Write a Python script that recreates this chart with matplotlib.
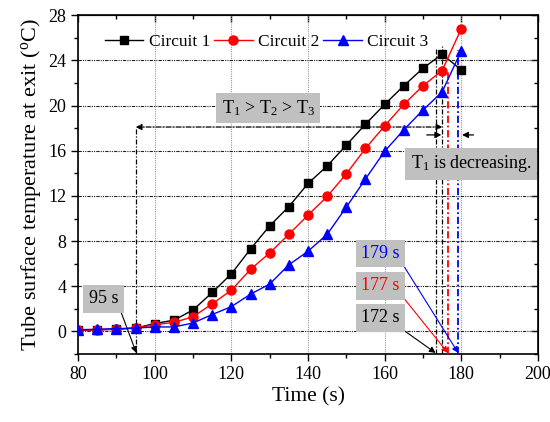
import matplotlib
matplotlib.use("Agg")
import matplotlib.pyplot as plt
from matplotlib.ticker import MultipleLocator

plt.rcParams['font.family'] = ['Liberation Serif', 'DejaVu Serif']
plt.rcParams['mathtext.fontset'] = 'custom'
plt.rcParams['mathtext.rm'] = 'Liberation Serif'
plt.rcParams['mathtext.it'] = 'Liberation Serif:italic'

# data
time = [80, 85, 90, 95, 100, 105, 110, 115, 120, 125, 130,
        135, 140, 145, 150, 155, 160, 165, 170, 175, 180]
circuit1 = [0.1, 0.15, 0.2, 0.3, 0.7, 1.0, 1.9, 3.45, 5.1, 7.3, 9.35,
            11.05, 13.1, 14.65, 16.5, 18.35, 20.1, 21.75, 23.3, 24.55, 23.15]
circuit2 = [0.1, 0.15, 0.2, 0.3, 0.6, 0.8, 1.3, 2.45, 3.65, 5.5, 6.95,
            8.6, 10.3, 11.95, 13.95, 16.2, 18.2, 20.1, 21.75, 23.1, 26.8]
circuit3 = [0.15, 0.2, 0.25, 0.3, 0.4, 0.4, 0.75, 1.5, 2.2, 3.3, 4.2,
            5.9, 7.1, 8.6, 11.0, 13.5, 15.95, 17.85, 19.6, 21.2, 24.85]

labels = ['Circuit 1', 'Circuit 2', 'Circuit 3']
colors = ['black', 'red', 'blue']
markers = ['s', 'o', '^']

# marked times (s) and the level of the vertical guide lines
mark_times = [173.3, 176.5, 179.2]
mark_text = ['172 s', '177 s', '179 s']
mark_tops = [25.0, 23.1, 24.9]

fig = plt.figure(figsize=(5.5, 4.22), dpi=100)
ax = fig.add_axes([0.142, 0.161, 0.836, 0.803])

for y, lab, c, m in zip([circuit1, circuit2, circuit3], labels, colors, markers):
    ax.plot(time, y, color=c, marker=m, markersize=6.5 if m != 's' else 6,
            lw=1, label=lab, zorder=4)

ax.set_xlim(80, 200)
ax.set_ylim(-2, 28)
ax.xaxis.set_major_locator(MultipleLocator(20))
ax.xaxis.set_minor_locator(MultipleLocator(10))
ax.yaxis.set_major_locator(MultipleLocator(4))
ax.yaxis.set_minor_locator(MultipleLocator(2))
ax.tick_params(which='both', direction='out', labelsize=13, width=1)
ax.tick_params(which='major', length=5)
ax.tick_params(which='minor', length=3)
for s in ax.spines.values():
    s.set_linewidth(1.2)

# inward ticks on the top and right, no labels
sec_x = ax.secondary_xaxis('top')
sec_x.xaxis.set_major_locator(MultipleLocator(20))
sec_x.xaxis.set_minor_locator(MultipleLocator(10))
sec_x.tick_params(which='both', direction='in', labeltop=False, width=1)
sec_x.tick_params(which='major', length=5)
sec_x.tick_params(which='minor', length=3)
sec_y = ax.secondary_yaxis('right')
sec_y.yaxis.set_major_locator(MultipleLocator(4))
sec_y.yaxis.set_minor_locator(MultipleLocator(2))
sec_y.tick_params(which='both', direction='in', labelright=False, width=1)
sec_y.tick_params(which='major', length=5)
sec_y.tick_params(which='minor', length=3)

ax.set_axisbelow(True)
ax.xaxis.grid(True, color='#999999', ls=(0, (1, 1)), lw=0.8)
ax.yaxis.grid(True, color='#222222', ls=(0, (3, 1, 1, 1, 1, 1)), lw=0.8)

ax.set_xlabel('Time (s)', fontsize=15.5, labelpad=3)
ax.set_ylabel('Tube surface temperature at exit ($^{\\rm o}$C)', fontsize=16,
              labelpad=4)

ax.legend(loc='upper left', ncol=3, frameon=False, fontsize=12.5,
          bbox_to_anchor=(0.025, 0.99), handlelength=2.2, handletextpad=0.3,
          columnspacing=0.25)

dashdot = (0, (4, 1.5, 1, 1.5))

# guide lines for the T1 > T2 > T3 range
ax.plot([95, 95], [-2, 18.1], color='k', ls=dashdot, lw=0.9, zorder=3)
ax.annotate('', xy=(95, 18.1), xytext=(175.1, 18.1),
            arrowprops=dict(arrowstyle='<|-|>', color='k', lw=0.9, ls=dashdot,
                            mutation_scale=9, shrinkA=0, shrinkB=0))
ax.plot([175.1, 175.1], [-2, 25.3], color='k', ls=dashdot, lw=0.9, zorder=3)
for x0, top, c in zip(mark_times, mark_tops, colors):
    ax.plot([x0, x0], [-2, top], color=c, ls=dashdot, lw=1.3 if c != 'black' else 0.9,
            zorder=3)

ax.annotate('', xy=(174.8, 17.4), xytext=(171.0, 17.4),
            arrowprops=dict(arrowstyle='-|>', color='k', lw=0.9,
                            mutation_scale=9, shrinkA=0, shrinkB=0))
ax.annotate('', xy=(180.2, 17.4), xytext=(183.2, 17.4),
            arrowprops=dict(arrowstyle='-|>', color='k', lw=0.9,
                            mutation_scale=9, shrinkA=0, shrinkB=0))

box = dict(boxstyle='square,pad=0.3', fc='#c0c0c0', ec='none')
ax.text(129.6, 19.8, 'T$_1$ > T$_2$ > T$_3$', fontsize=13, ha='center',
        va='center', bbox=box, zorder=5)
ax.text(182.6, 14.85, 'T$_1$ is decreasing.', fontsize=13, ha='center',
        va='center', bbox=box, zorder=5)

# 95 s label
ax.text(86.6, 2.9, '95 s', fontsize=13, ha='center', va='center', bbox=box,
        zorder=5)
ax.annotate('', xy=(95.2, -1.9), xytext=(91.0, 1.9),
            arrowprops=dict(arrowstyle='-|>', color='k', lw=0.8,
                            mutation_scale=9, shrinkA=0, shrinkB=0))

# 172 / 177 / 179 s labels
label_y = [1.2, 4.05, 6.9]
for x0, txt, c, ly in zip(mark_times, mark_text, colors, label_y):
    ax.text(158.9, ly, txt, fontsize=13, color=c, ha='center', va='center',
            bbox=box, zorder=5)
    ax.annotate('', xy=(x0, -1.9), xytext=(165.0, ly - 1.1),
                arrowprops=dict(arrowstyle='-|>', color=c, lw=0.8,
                                mutation_scale=9, shrinkA=0, shrinkB=0))

fig.savefig('out.png', dpi=100)
